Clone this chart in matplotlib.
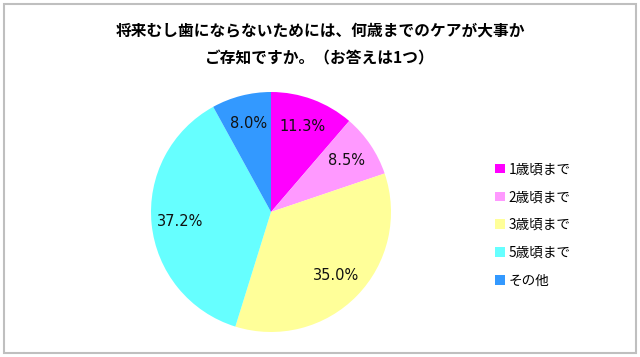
import matplotlib
matplotlib.use("Agg")
import matplotlib.pyplot as plt
from matplotlib.patches import Patch, Rectangle

# survey answers (percent), clockwise from 12 o'clock
categories = ["1歳頃まで", "2歳頃まで", "3歳頃まで", "5歳頃まで", "その他"]
shares = [11.3, 8.5, 35.0, 37.2, 8.0]
colors = ["#ff00ff", "#ff99ff", "#ffff99", "#66ffff", "#3399ff"]
title = "将来むし歯にならないためには、何歳までのケアが大事か\nご存知ですか。（お答えは1つ）"

W, H = 640, 357
fig = plt.figure(figsize=(W / 100, H / 100), dpi=100)
fig.patch.set_facecolor("white")

# grey frame round the whole picture
fig.patches.append(Rectangle((4 / W, 4 / H), 632 / W, 349 / H, transform=fig.transFigure,
                             fill=False, edgecolor="#bfbfbf", linewidth=1.5))

fig.text(320 / W, 1 - 45 / H, title, ha="center", va="center", fontsize=11.3,
         fontweight="bold", linespacing=1.85, family=["Noto Sans CJK JP", "DejaVu Sans"])

ax = fig.add_axes([151 / W, 25 / H, 240 / W, 240 / H])
wedges, texts, autotexts = ax.pie(shares, colors=colors, startangle=90, counterclock=False,
                                  autopct="%.1f%%", pctdistance=0.76,
                                  textprops={"fontsize": 10.5, "color": "#111111",
                                             "family": "DejaVu Sans"})
ax.set_xlim(-1, 1)
ax.set_ylim(-1, 1)
ax.set_aspect("auto")

handles = [Patch(facecolor=c, edgecolor="none") for c in colors]
fig.legend(handles, categories, loc="upper left", bbox_to_anchor=(483 / W, 1 - 150 / H),
           frameon=False, handlelength=0.7, handleheight=0.7, handletextpad=0.3,
           labelspacing=1.02, prop={"family": ["Noto Sans CJK JP", "DejaVu Sans"], "size": 9.8})

plt.savefig("out.png", dpi=100)
